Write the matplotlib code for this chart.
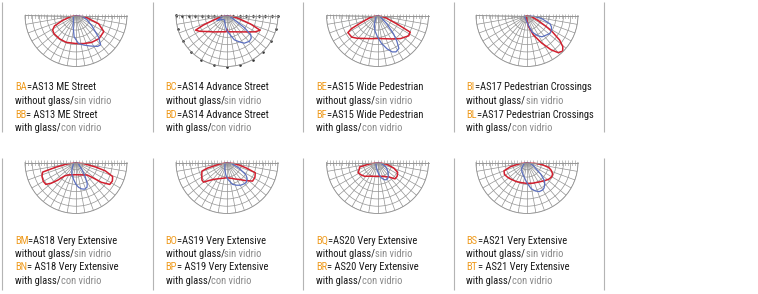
import numpy as np
import matplotlib.pyplot as plt

W, H = 758, 294

# luminaire codes, names and polar curves (angle from nadir in deg, relative intensity)
codes_a = ["BA", "BC", "BE", "BI", "BM", "BO", "BQ", "BS"]
codes_b = ["BB", "BD", "BF", "BL", "BN", "BP", "BR", "BT"]
eq_b = ["= ", "=", "=", "=", "= ", "= ", "= ", "= "]
names = ["AS13 ME Street", "AS14 Advance Street", "AS15 Wide Pedestrian",
         "AS17 Pedestrian Crossings", "AS18 Very Extensive", "AS19 Very Extensive",
         "AS20 Very Extensive", "AS21 Very Extensive"]

ba_red = ([-90, -80, -70, -64, -58, -50, -35, -20, 0, 15, 30, 45, 60, 70, 80, 90],
          [0.02, 0.1, 0.28, 0.47, 0.54, 0.56, 0.56, 0.56, 0.55, 0.57, 0.61, 0.64, 0.63, 0.47, 0.2, 0.02])
ba_blue = ([-90, -60, -30, -15, -5, 5, 15, 25, 35, 40, 46, 57, 70, 82, 90],
           [0.02, 0.06, 0.1, 0.22, 0.42, 0.55, 0.6, 0.66, 0.74, 0.75, 0.62, 0.37, 0.22, 0.12, 0.02])

bc_red = ([-90, -80, -72, -68, -65, -60, -50, -40, -30, -20, -10, -3, 0, 3, 10, 20, 30, 40, 50, 60, 66, 70, 75, 82, 90],
          [0.02, 0.1, 0.25, 0.5, 0.68, 0.62, 0.49, 0.42, 0.37, 0.34, 0.325, 0.32, 0.27, 0.32, 0.325, 0.34, 0.37, 0.42, 0.5, 0.64, 0.71, 0.5, 0.25, 0.1, 0.02])
bc_blue = ([-90, -75, -63, -50, -30, -10, 0, 8, 17, 25, 32, 41, 47, 51, 55, 60, 75, 90],
           [0.02, 0.1, 0.22, 0.12, 0.1, 0.2, 0.3, 0.37, 0.5, 0.57, 0.64, 0.67, 0.65, 0.6, 0.42, 0.15, 0.05, 0.02])

be_red = ([-90, -75, -66, -63, -60, -50, -42, -30, -15, 0, 15, 30, 45, 57, 63, 66, 75, 90],
          [0.02, 0.15, 0.38, 0.58, 0.67, 0.66, 0.6, 0.52, 0.47, 0.45, 0.47, 0.53, 0.64, 0.73, 0.72, 0.45, 0.17, 0.02])
be_blue = ([-90, -40, -20, -10, 0, 8, 16, 22, 27, 33, 37, 41, 48, 60, 90],
           [0.02, 0.05, 0.18, 0.3, 0.42, 0.55, 0.68, 0.77, 0.8, 0.77, 0.63, 0.48, 0.25, 0.08, 0.02])

bi_red = ([-90, -20, 0, 8, 18, 28, 35, 40, 45, 49, 53, 57, 60, 65, 75, 90],
          [0.02, 0.03, 0.1, 0.22, 0.4, 0.61, 0.82, 0.95, 0.99, 0.93, 0.8, 0.6, 0.44, 0.25, 0.1, 0.02])
bi_blue = ([-90, -70, -30, -10, 4, 17, 28, 35, 45, 52, 59, 65, 70, 78, 85, 90],
           [0.05, 0.06, 0.06, 0.1, 0.16, 0.34, 0.45, 0.51, 0.54, 0.57, 0.56, 0.53, 0.48, 0.3, 0.12, 0.04])

bm_red = ([-90, -80, -77, -74, -68, -60, -54, -50, -46, -40, -30, -15, 0, 15, 30, 42, 48, 52, 57, 63, 69, 74, 77, 82, 90],
          [0.02, 0.2, 0.4, 0.68, 0.72, 0.74, 0.73, 0.63, 0.5, 0.34, 0.28, 0.25, 0.24, 0.25, 0.28, 0.33, 0.45, 0.63, 0.79, 0.8, 0.77, 0.6, 0.4, 0.15, 0.02])
bm_blue = ([-90, -60, -40, -30, -20, -10, 0, 6, 12, 18, 24, 28, 33, 40, 50, 70, 90],
           [0.03, 0.06, 0.1, 0.16, 0.24, 0.32, 0.43, 0.49, 0.53, 0.55, 0.53, 0.47, 0.33, 0.18, 0.08, 0.05, 0.03])

bo_red = ([-90, -78, -74, -71, -62, -55, -50, -45, -38, -30, -15, 0, 15, 28, 36, 45, 54, 62, 70, 74, 78, 84, 90],
          [0.02, 0.15, 0.4, 0.52, 0.56, 0.6, 0.6, 0.5, 0.42, 0.37, 0.32, 0.3, 0.32, 0.37, 0.41, 0.5, 0.62, 0.62, 0.59, 0.4, 0.25, 0.1, 0.02])
bo_blue = ([-90, -50, -25, -15, -5, 3, 14, 22, 31, 40, 45, 52, 57, 65, 75, 90],
           [0.03, 0.05, 0.1, 0.16, 0.25, 0.33, 0.44, 0.48, 0.52, 0.54, 0.54, 0.5, 0.44, 0.26, 0.1, 0.03])

bq_red = ([-90, -80, -76, -70, -62, -52, -43, -30, -15, 0, 15, 30, 38, 47, 55, 64, 71, 78, 85, 90],
          [0.02, 0.15, 0.36, 0.38, 0.43, 0.4, 0.37, 0.31, 0.28, 0.27, 0.28, 0.32, 0.36, 0.47, 0.47, 0.44, 0.34, 0.2, 0.08, 0.02])
bq_blue = ([-90, -40, -15, 0, 7, 14, 21, 27, 33, 40, 46, 55, 63, 75, 90],
           [0.03, 0.05, 0.09, 0.17, 0.24, 0.31, 0.36, 0.38, 0.37, 0.33, 0.29, 0.23, 0.18, 0.08, 0.03])

bs_red = ([-90, -82, -76, -70, -62, -54, -46, -30, -15, 0, 15, 32, 45, 53, 60, 66, 72, 77, 82, 86, 90],
          [0.02, 0.12, 0.33, 0.48, 0.5, 0.48, 0.46, 0.43, 0.41, 0.41, 0.42, 0.45, 0.5, 0.54, 0.56, 0.55, 0.5, 0.44, 0.3, 0.15, 0.02])
bs_blue = ([-90, -60, -40, -25, -10, 0, 9, 16, 23, 30, 34, 40, 44, 50, 53, 62, 75, 90],
           [0.03, 0.08, 0.17, 0.22, 0.3, 0.4, 0.52, 0.58, 0.62, 0.62, 0.6, 0.54, 0.49, 0.35, 0.26, 0.15, 0.07, 0.03])

reds = [ba_red, bc_red, be_red, bi_red, bm_red, bo_red, bq_red, bs_red]
blues = [ba_blue, bc_blue, be_blue, bi_blue, bm_blue, bo_blue, bq_blue, bs_blue]

ORANGE = "#ef9b1f"
BLACK = "#1a1a1a"
GREY = "#8a8a8a"
GRID = "#939393"
RED = "#d21f2e"
BLUE = "#5b6fbf"

fig = plt.figure(figsize=(W / 100, H / 100), dpi=100)
bg = fig.add_axes([0, 0, 1, 1])
bg.set_xlim(0, W)
bg.set_ylim(H, 0)
bg.axis("off")

seps = [2, 152.5, 303, 453.5, 604]
centers = [76, 227, 377.5, 527]
row_top = [15.5, 162.5]
row_text = [90.5, 243.5]
row_sep = [(2, 132), (158, 290)]
R = 51
font = dict(family=["Roboto Condensed", "Liberation Sans", "DejaVu Sans"], fontsize=7.6)

for y0, y1 in row_sep:
    bg.vlines(seps, y0, y1, color="#b4b4b4", lw=0.8)


def colored_line(x, y, parts):
    t = bg.text(x, y, parts[0][0], color=parts[0][1], va="baseline", **font)
    for s, c in parts[1:]:
        t = bg.annotate(s, xy=(1, 0), xycoords=t, va="bottom", ha="left", color=c, **font)


def diagram(cx, top, red, blue, dots=False):
    # comb strip along the horizontal edge
    cax = fig.add_axes([(cx - R) / W, 1 - (top + 3.5) / H, 2 * R / W, 5.5 / H])
    cax.set_xlim(-1, 1)
    cax.set_ylim(-3.5, 2)
    xs = np.linspace(-1, 1, 33)
    cax.vlines(xs, -3.5, 2, color="#a8a8a8", lw=0.5)
    if dots:
        cax.plot(xs[::2], np.full(len(xs[::2]), 0.0), "o", ms=0.9, color="#333333")
    cax.axis("off")

    # square box: the half disc is centred vertically inside it
    ax = fig.add_axes([(cx - R) / W, 1 - (top + 1.5 * R) / H, 2 * R / W, 2 * R / H],
                      projection="polar")
    ax.set_zorder(2)
    ax.set_facecolor("none")
    ax.set_theta_zero_location("S")
    ax.set_thetamin(-90)
    ax.set_thetamax(90)
    ax.set_ylim(0, 1)
    ax.set_rgrids(np.arange(1, 8) / 7)
    ax.set_thetagrids(np.arange(-90, 91, 10))
    ax.set_xticklabels([])
    ax.set_yticklabels([])
    ax.tick_params(length=0)
    ax.grid(True, color=GRID, lw=0.5)
    for sp in ax.spines.values():
        sp.set_color(GRID)
        sp.set_linewidth(0.6)
    if dots:
        th = np.deg2rad(np.arange(-90, 91, 15))
        ax.plot(th, np.ones(len(th)), "o", ms=0.9, color="#333333", clip_on=False)
    ax.plot(np.deg2rad(red[0]), red[1], color=RED, lw=1.1)
    ax.plot(np.deg2rad(blue[0]), blue[1], color=BLUE, lw=0.9)


for i in range(8):
    row, col = divmod(i, 4)
    diagram(centers[col], row_top[row], reds[i], blues[i], dots=(i == 1))
    x = seps[col] + 13
    y = row_text[row]
    colored_line(x, y, [(codes_a[i], ORANGE), ("=" + names[i], BLACK)])
    colored_line(x, y + 13.5, [("without glass/", BLACK), ("sin vidrio", GREY)])
    colored_line(x, y + 27, [(codes_b[i], ORANGE), (eq_b[i] + names[i], BLACK)])
    colored_line(x, y + 40.5, [("with glass/", BLACK), ("con vidrio", GREY)])

fig.savefig("out.png", dpi=100)
